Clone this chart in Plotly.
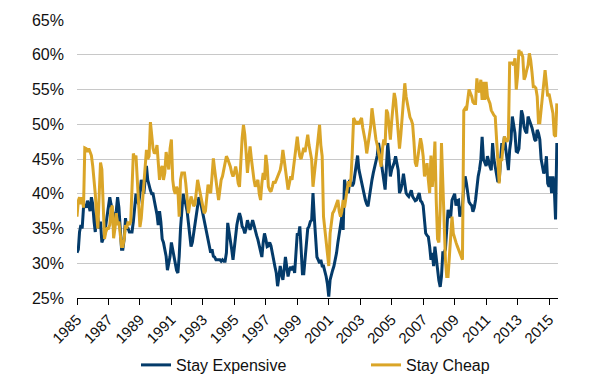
import pandas as pd
import plotly.graph_objects as go

# Monthly values (%), Jan 1985 - Jul 2015
stay_expensive = [
    31.5, 32.0, 34.5, 35.5, 35.0, 38.0, 38.5, 38.0, 39.0, 38.0, 37.5, 39.5,  # 1985
    38.5, 36.0, 34.5, 37.0, 36.5, 35.0, 36.0, 33.0, 33.5, 34.0, 35.5, 37.0,  # 1986
    38.0, 39.5, 38.5, 37.5, 36.5, 36.0, 37.5, 39.5, 38.0, 35.0, 32.0, 32.0,  # 1987
    33.5, 36.5, 35.0, 35.0, 34.5, 34.5, 34.5, 36.0, 38.0, 40.0, 39.0, 38.5,  # 1988
    40.0, 42.0, 41.0, 40.0, 42.0, 44.0, 42.0, 41.0, 40.5, 40.0, 40.0, 39.0,  # 1989
    38.0, 37.0, 35.5, 37.5, 36.0, 33.5, 33.0, 32.0, 31.0, 29.0, 30.0, 31.0,  # 1990
    33.0, 32.0, 31.0, 30.0, 29.0, 28.6, 31.0, 35.0, 38.5, 40.0, 39.0, 38.5,  # 1991
    37.5, 36.0, 34.0, 32.4, 33.0, 34.3, 35.5, 37.0, 38.6, 39.5, 39.0, 38.0,  # 1992
    37.0, 36.2, 35.5, 34.3, 33.5, 32.4, 31.5, 32.0, 31.0, 30.9, 30.5, 30.5,  # 1993
    30.5, 30.5, 30.3, 30.5, 30.3, 30.3, 31.5, 35.8, 34.5, 33.4, 32.0, 30.5,  # 1994
    32.5, 34.3, 35.5, 36.5, 37.2, 36.5, 35.3, 35.0, 34.3, 35.0, 36.2, 35.5,  # 1995
    34.8, 35.5, 36.2, 35.5, 34.5, 34.0, 33.4, 32.5, 31.5, 30.9, 33.0, 34.3,  # 1996
    33.5, 32.4, 32.5, 33.0, 32.5, 31.5, 30.0, 29.5, 28.6, 26.7, 28.0, 29.6,  # 1997
    28.5, 27.6, 29.0, 30.9, 29.5, 28.1, 29.0, 29.5, 29.0, 29.6, 28.6, 31.0,  # 1998
    34.3, 34.0, 35.3, 32.0, 28.5, 28.5, 31.0, 32.5, 35.0, 35.3, 36.0, 36.2,  # 1999
    40.1, 36.5, 33.5, 30.9, 30.5, 30.0, 30.5, 29.6, 29.6, 29.0, 28.1, 27.0,  # 2000
    25.2, 27.6, 28.5, 29.0, 29.6, 30.5, 31.5, 33.0, 34.3, 35.5, 36.7, 34.8,  # 2001
    42.0, 41.0, 40.5, 40.1, 42.0, 41.5, 41.1, 41.5, 43.0, 44.0, 45.5, 43.5,  # 2002
    42.5, 41.6, 40.5, 39.5, 39.1, 38.5, 38.2, 39.5, 41.0, 42.0, 43.0, 44.0,  # 2003
    44.5, 45.5, 47.3, 46.0, 44.5, 43.0, 41.5, 40.6, 43.9, 47.3, 45.0, 42.5,  # 2004
    43.5, 43.9, 44.5, 45.4, 44.5, 43.4, 40.1, 40.6, 41.5, 42.9, 41.5, 40.1,  # 2005
    39.8, 39.6, 40.0, 40.5, 39.6, 39.3, 39.0, 39.1, 39.5, 40.1, 39.0, 38.8,  # 2006
    38.3, 35.5, 34.3, 34.0, 33.8, 32.4, 30.5, 31.5, 29.6, 32.4, 30.5, 29.0,  # 2007
    27.5, 26.6, 28.1, 31.5, 31.5, 32.0, 34.3, 37.7, 36.7, 36.7, 39.1, 39.5,  # 2008
    40.0, 38.3, 39.0, 39.1, 36.7, 37.5, 38.3, 41.0, 42.5, 41.5, 40.0, 38.8,  # 2009
    38.5, 38.3, 37.4, 38.0, 39.1, 41.1, 42.5, 43.5, 44.9, 48.2, 44.9, 44.5,  # 2010
    44.0, 45.4, 44.5, 43.9, 43.4, 47.3, 45.0, 43.9, 42.9, 41.7, 41.9, 45.0,  # 2011
    47.3, 46.3, 48.2, 46.5, 44.5, 43.4, 46.3, 47.8, 51.1, 49.5, 48.7, 46.1,  # 2012
    46.0, 46.5, 48.7, 52.0, 51.3, 49.6, 49.0, 48.7, 51.1, 50.6, 50.2, 49.5,  # 2013
    48.7, 47.8, 47.6, 49.2, 48.7, 47.8, 45.0, 43.9, 42.9, 43.5, 45.4, 41.5,  # 2014
    41.0, 42.5, 40.1, 42.5, 41.1, 36.3, 47.3,                                # 2015
]

stay_cheap = [
    36.7, 39.0, 39.5, 38.5, 39.5, 38.0, 46.6, 46.5, 46.0, 46.5, 46.0, 45.5,  # 1985
    44.0, 42.0, 40.0, 37.0, 35.0, 40.0, 44.5, 43.5, 37.0, 33.5, 34.5, 35.0,  # 1986
    35.0, 35.5, 37.7, 38.3, 33.6, 35.0, 37.2, 35.5, 36.0, 34.0, 32.4, 32.4,  # 1987
    33.5, 35.5, 35.0, 36.0, 35.5, 36.0, 40.0, 45.8, 45.0, 45.5, 42.0, 38.0,  # 1988
    35.2, 36.5, 39.0, 42.0, 44.0, 46.3, 45.0, 45.4, 50.3, 48.5, 46.5, 45.8,  # 1989
    46.0, 47.0, 45.0, 42.0, 43.5, 44.0, 42.0, 43.0, 46.0, 45.0, 43.5, 46.5,  # 1990
    47.8, 42.0, 40.6, 40.0, 41.0, 40.5, 36.7, 42.0, 43.0, 43.0, 43.0, 41.5,  # 1991
    39.5, 37.2, 38.5, 39.6, 39.0, 38.2, 38.5, 40.5, 42.0, 41.0, 40.0, 39.1,  # 1992
    38.5, 37.2, 37.5, 39.5, 41.3, 40.5, 40.1, 42.5, 45.1, 43.5, 41.5, 40.5,  # 1993
    39.1, 40.5, 42.0, 42.5, 43.5, 44.5, 45.4, 45.0, 44.5, 43.9, 43.0, 42.5,  # 1994
    43.0, 43.9, 43.0, 41.5, 41.0, 45.0, 48.0, 49.9, 48.5, 46.0, 43.0, 45.0,  # 1995
    46.8, 45.0, 43.4, 42.0, 41.0, 41.5, 42.0, 40.0, 39.1, 41.5, 43.0, 42.0,  # 1996
    45.6, 44.0, 41.0, 40.5, 40.3, 41.0, 41.8, 41.5, 42.0, 42.5, 43.0, 43.4,  # 1997
    44.5, 46.3, 45.0, 43.4, 42.0, 40.6, 41.5, 42.5, 42.0, 43.5, 45.4, 46.5,  # 1998
    48.2, 46.5, 45.4, 45.0, 46.0, 46.6, 46.0, 47.0, 48.5, 47.0, 45.5, 44.9,  # 1999
    41.0, 43.0, 43.9, 46.0, 48.5, 49.9, 47.0, 45.4, 36.7, 35.0, 33.4, 31.5,  # 2000
    29.6, 34.3, 35.5, 37.2, 37.5, 38.1, 38.5, 39.1, 37.5, 36.7, 37.5, 39.1,  # 2001
    38.0, 39.5, 40.5, 41.8, 41.0, 42.3, 46.0, 50.9, 50.5, 50.0, 50.4, 50.0,  # 2002
    50.5, 50.9, 49.5, 48.5, 47.5, 45.8, 47.0, 48.5, 49.7, 52.3, 50.5, 49.0,  # 2003
    47.8, 47.0, 46.0, 44.9, 43.9, 46.5, 47.8, 47.0, 52.1, 51.6, 49.0, 47.8,  # 2004
    50.5, 52.5, 54.5, 53.5, 51.0, 48.7, 46.5, 48.5, 51.1, 54.0, 55.9, 54.0,  # 2005
    53.0, 52.0, 51.0, 50.6, 50.0, 47.5, 44.5, 43.9, 45.5, 46.8, 48.0, 47.0,  # 2006
    45.4, 42.5, 43.5, 44.4, 42.0, 40.1, 45.5, 41.0, 43.5, 47.5, 39.0, 33.5,  # 2007
    33.0, 38.0, 47.3, 40.5, 36.0, 30.5, 28.1, 28.1, 31.0, 34.0, 36.7, 34.3,  # 2008
    33.4, 33.0, 32.5, 32.0, 31.5, 31.0, 30.5, 52.0, 52.3, 52.0, 53.5, 55.0,  # 2009
    54.5, 54.0, 53.2, 53.0, 53.0, 56.6, 55.0, 54.6, 56.4, 53.5, 56.1, 53.5,  # 2010
    56.1, 54.0, 53.5, 53.0, 52.0, 51.6, 51.3, 51.1, 47.8, 45.0, 41.5, 44.9,  # 2011
    44.9, 47.0, 48.2, 47.8, 47.5, 48.0, 58.8, 58.8, 58.8, 58.5, 59.5, 55.0,  # 2012
    57.0, 60.7, 60.0, 60.2, 59.7, 56.4, 56.9, 57.8, 58.5, 60.2, 59.2, 57.5,  # 2013
    55.4, 55.4, 55.2, 54.0, 50.2, 50.2, 52.0, 54.5, 55.9, 57.8, 55.9, 54.0,  # 2014
    54.4, 53.5, 53.0, 51.6, 48.5, 48.2, 53.0,                                # 2015
]

tick_years = [1985, 1987, 1989, 1991, 1993, 1995, 1997, 1999,
              2001, 2003, 2005, 2007, 2009, 2011, 2013, 2015]

dates = pd.date_range("1985-01-01", periods=len(stay_expensive), freq="MS")

NAVY = "#043b6a"
GOLD = "#daa528"

fig = go.Figure()
fig.add_trace(go.Scatter(x=dates, y=stay_expensive, mode="lines", name="Stay Expensive",
                         line=dict(color=NAVY, width=3), legend="legend"))
fig.add_trace(go.Scatter(x=dates, y=stay_cheap, mode="lines", name="Stay Cheap",
                         line=dict(color=GOLD, width=3), legend="legend2"))

legend_common = dict(orientation="h", xref="container", yref="container",
                     xanchor="left", y=0.047, yanchor="middle",
                     font=dict(size=16), bgcolor="rgba(0,0,0,0)")

fig.update_layout(
    width=600, height=383,
    margin=dict(l=77, r=42, t=20, b=85, autoexpand=False),
    paper_bgcolor="white", plot_bgcolor="white",
    font=dict(family="Liberation Sans, Arial, sans-serif", color="#111111"),
    showlegend=True,
    legend=dict(x=0.2267, **legend_common),
    legend2=dict(x=0.61, **legend_common),
    xaxis=dict(
        type="date",
        range=["1985-01-01", "2015-07-28"],
        tickvals=[f"{y}-01-01" for y in tick_years],
        ticktext=[str(y) for y in tick_years],
        tickangle=-45,
        ticks="outside", ticklen=6, tickwidth=1.2, tickcolor="black",
        showline=True, linecolor="black", linewidth=1.3,
        showgrid=False, zeroline=False,
        tickfont=dict(size=15),
    ),
    yaxis=dict(
        range=[25, 65], dtick=5, tick0=25, ticksuffix="%",
        showgrid=True, gridcolor="#c8c8c8", gridwidth=1,
        zeroline=False, showline=False,
        tickfont=dict(size=16), ticklabelstandoff=12,
    ),
)

fig.write_html("out.html", config={"displayModeBar": False},
               post_script="document.body.style.margin='0';")
